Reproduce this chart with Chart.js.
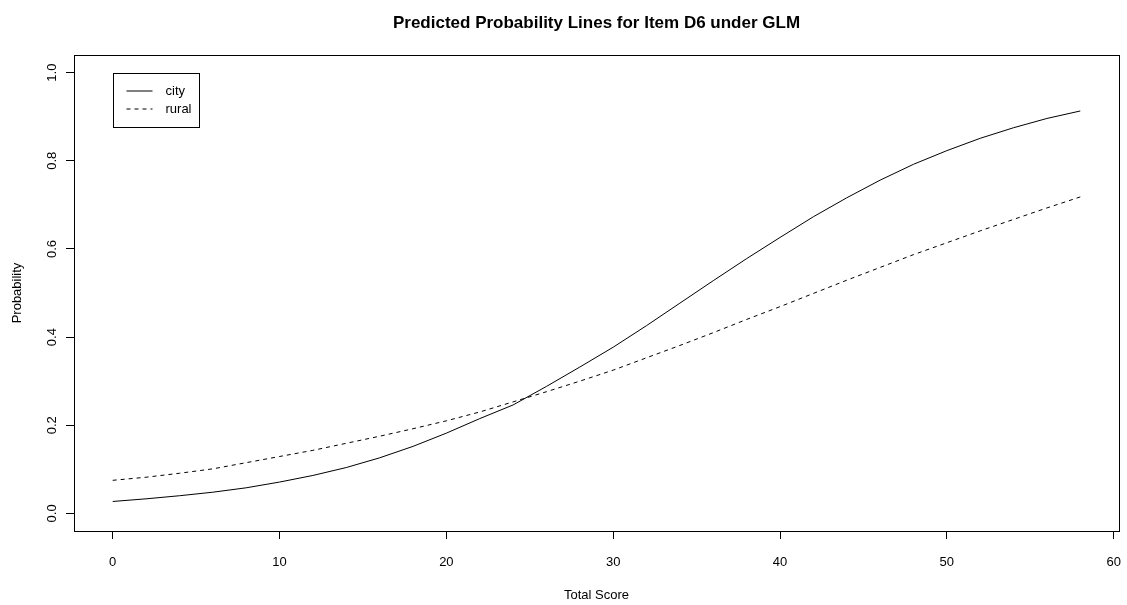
<!DOCTYPE html>
<html>
<head>
<meta charset="utf-8">
<title>Predicted Probability Lines for Item D6 under GLM</title>
<script src="https://cdn.jsdelivr.net/npm/chart.js@4.4.1/dist/chart.umd.min.js"></script>
<style>
  html, body { margin: 0; padding: 0; background: #fff; }
</style>
</head>
<body>
<canvas id="glmPlot" width="1127" height="605"></canvas>
<script>
var FONT = '"Liberation Sans", Arial, Helvetica, sans-serif';

// predicted probabilities by total score
var totalScore = [0, 2, 4, 6, 8, 10, 12, 14, 16, 18, 20, 22, 24, 26, 28,
                  30, 32, 34, 36, 38, 40, 42, 44, 46, 48, 50, 52, 54, 56, 58];
var cityProb = [0.027, 0.033, 0.040, 0.048, 0.058, 0.071, 0.086, 0.104, 0.126, 0.152,
                0.182, 0.215, 0.246, 0.288, 0.332, 0.377, 0.426, 0.477, 0.528, 0.578,
                0.626, 0.673, 0.716, 0.756, 0.792, 0.823, 0.851, 0.875, 0.896, 0.913];
var ruralProb = [0.075, 0.082, 0.091, 0.101, 0.115, 0.129, 0.143, 0.159, 0.175, 0.192,
                 0.210, 0.230, 0.253, 0.276, 0.300, 0.325, 0.353, 0.381, 0.410, 0.440,
                 0.469, 0.499, 0.529, 0.558, 0.587, 0.614, 0.641, 0.667, 0.693, 0.718];

var groups = ["city", "rural"];
var xTicks = [0, 10, 20, 30, 40, 50, 60];
var yTicks = [0, 0.2, 0.4, 0.6, 0.8, 1.0];
var plotTitle = "Predicted Probability Lines for Item D6 under GLM";

function pairs(xs, ys) {
  return xs.map(function (x, i) { return { x: x, y: ys[i] }; });
}

// R style extras: main title, box around the plot region, legend in the top left
var rDecor = {
  id: "rDecor",
  afterDraw: function (chart) {
    var ctx = chart.ctx;
    var area = chart.chartArea;
    var xs = chart.scales.x;
    var ys = chart.scales.y;
    ctx.save();

    ctx.fillStyle = "#000";
    ctx.font = "bold 17px " + FONT;
    ctx.textAlign = "center";
    ctx.textBaseline = "middle";
    ctx.fillText(plotTitle, (area.left + area.right) / 2, 23);

    ctx.strokeStyle = "#000";
    ctx.lineWidth = 1;
    ctx.strokeRect(Math.round(area.left) + 0.5, Math.round(area.top) + 0.5,
                   Math.round(area.right - area.left), Math.round(area.bottom - area.top));

    var lx = Math.round(xs.getPixelForValue(0)) + 0.5;
    var ly = Math.round(ys.getPixelForValue(1)) + 0.5;
    ctx.strokeRect(lx, ly, 86, 54);
    ctx.font = "13px " + FONT;
    ctx.textAlign = "left";
    groups.forEach(function (name, i) {
      var y = ly + 17.5 + i * 18;
      ctx.setLineDash(i === 0 ? [] : [4, 4]);
      ctx.beginPath();
      ctx.moveTo(lx + 13, y);
      ctx.lineTo(lx + 39, y);
      ctx.stroke();
      ctx.fillText(name, lx + 52, y);
    });
    ctx.restore();
  }
};

new Chart("glmPlot", {
  type: "line",
  data: {
    datasets: [
      {
        label: groups[0],
        data: pairs(totalScore, cityProb),
        borderColor: "#000",
        borderWidth: 1,
        pointRadius: 0,
        tension: 0,
        fill: false
      },
      {
        label: groups[1],
        data: pairs(totalScore, ruralProb),
        borderColor: "#000",
        borderWidth: 1,
        borderDash: [4, 4],
        pointRadius: 0,
        tension: 0,
        fill: false
      }
    ]
  },
  options: {
    responsive: false,
    animation: false,
    devicePixelRatio: 1,
    layout: { padding: { top: 55, right: 8, left: 0, bottom: 0 } },
    plugins: {
      legend: { display: false },
      title: { display: false },
      tooltip: { enabled: false }
    },
    scales: {
      x: {
        type: "linear",
        min: -2.32,
        max: 60.32,
        afterBuildTicks: function (scale) {
          scale.ticks = xTicks.map(function (v) { return { value: v }; });
        },
        afterFit: function (scale) {
          scale.height = 74;
          scale.paddingLeft = 0;
          scale.paddingRight = 0;
        },
        grid: { drawOnChartArea: false, tickLength: 8, color: "#000", tickColor: "#000" },
        border: { display: false },
        ticks: {
          color: "#000",
          padding: 16,
          maxRotation: 0,
          font: { family: FONT, size: 13 },
          callback: function (v) { return String(v); }
        },
        title: {
          display: true,
          text: "Total Score",
          color: "#000",
          font: { family: FONT, size: 13 },
          padding: { top: 0, bottom: 2 }
        }
      },
      y: {
        min: -0.04,
        max: 1.04,
        afterBuildTicks: function (scale) {
          scale.ticks = yTicks.map(function (v) { return { value: v }; });
        },
        afterFit: function (scale) {
          scale.width = 74;
          scale.paddingTop = 0;
          scale.paddingBottom = 0;
        },
        grid: { drawOnChartArea: false, tickLength: 8, color: "#000", tickColor: "#000" },
        border: { display: false },
        ticks: {
          color: "#000",
          padding: 14,
          minRotation: 90,
          maxRotation: 90,
          labelOffset: -9,
          font: { family: FONT, size: 13 },
          callback: function (v) { return v.toFixed(1); }
        },
        title: {
          display: true,
          text: "Probability",
          color: "#000",
          font: { family: FONT, size: 13 },
          padding: { top: 10, bottom: 0 }
        }
      }
    }
  },
  plugins: [rDecor]
});
</script>
</body>
</html>
